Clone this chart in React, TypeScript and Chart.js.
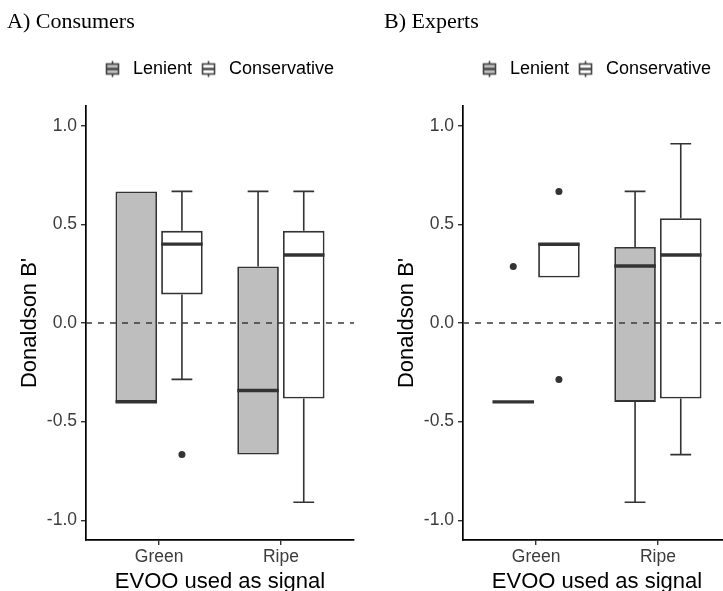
import React, { useEffect, useRef } from 'react';
import { Chart, registerables } from 'chart.js';

Chart.register(...registerables);

// ---------------- data ----------------
const categories = ['Green', 'Ripe'];
const categoryPositions = [1, 2];
const groups = ['Lenient', 'Conservative'];
const yTicks = [-1, -0.5, 0, 0.5, 1];

// five-number summaries per category: [lower whisker, Q1, median, Q3, upper whisker]
const consumersLenient = [
  [-0.4, -0.4, -0.4, 0.667, 0.667],
  [-0.667, -0.667, -0.342, 0.287, 0.667],
];
const consumersConservative = [
  [-0.286, 0.145, 0.4, 0.467, 0.667],
  [-0.909, -0.383, 0.345, 0.467, 0.667],
];
const consumersLenientOutliers = [[], []];
const consumersConservativeOutliers = [[-0.667], []];

const expertsLenient = [
  [-0.4, -0.4, -0.4, -0.4, -0.4],
  [-0.909, -0.4, 0.289, 0.385, 0.667],
];
const expertsConservative = [
  [0.231, 0.231, 0.4, 0.4, 0.4],
  [-0.667, -0.383, 0.345, 0.531, 0.909],
];
const expertsLenientOutliers = [[0.286], []];
const expertsConservativeOutliers = [[0.667, -0.286], []];

// ---------------- style ----------------
const PANEL_W = 377;
const H = 591;
const LINE = '#333333';
const FILLS = ['#BEBEBE', '#FFFFFF'];
const SANS = 'Liberation Sans';
const SERIF = 'Liberation Serif';
const TICK_COLOR = '#3C3C3C';

function makeIcon(fill: string) {
  const c = document.createElement('canvas');
  c.width = 20;
  c.height = 20;
  const g = c.getContext('2d')!;
  const cx = 7.5;
  g.strokeStyle = '#444444';
  g.lineWidth = 1.6;
  g.beginPath();
  g.moveTo(cx, 1.5);
  g.lineTo(cx, 4.5);
  g.moveTo(cx, 14.5);
  g.lineTo(cx, 17.5);
  g.stroke();
  g.fillStyle = fill;
  g.fillRect(cx - 6, 4.5, 12, 10);
  g.strokeRect(cx - 6, 4.5, 12, 10);
  g.lineWidth = 2.4;
  g.beginPath();
  g.moveTo(cx - 6, 9.5);
  g.lineTo(cx + 6, 9.5);
  g.stroke();
  return c;
}

const legendSpacer = {
  id: 'legendSpacer',
  beforeInit(chart: any) {
    const legend = chart.legend;
    if (!legend || legend.__patched) return;
    const fit = legend.fit;
    legend.fit = function () {
      fit.call(this);
      this.height += 17.5;
    };
    legend.__patched = true;
  },
};

function boxplotExtras(stats: number[][][], outs: number[][][]) {
  return {
    id: 'boxplotExtras',
    afterDatasetsDraw(chart: any) {
      const { ctx, chartArea, scales } = chart;
      const y = scales.y;
      const py = (v: number) => y.getPixelForValue(v);
      ctx.save();
      chart.data.datasets.forEach((_: any, di: number) => {
        const meta = chart.getDatasetMeta(di);
        meta.data.forEach((el: any, j: number) => {
          const { x, width } = el.getProps(['x', 'width'], true);
          const [lo, q1, med, q3, hi] = stats[di][j];
          ctx.setLineDash([]);
          ctx.strokeStyle = LINE;
          ctx.lineWidth = 1.6;
          ctx.beginPath();
          if (hi > q3) {
            ctx.moveTo(x, py(q3));
            ctx.lineTo(x, py(hi));
            ctx.moveTo(x - width / 4, py(hi));
            ctx.lineTo(x + width / 4, py(hi));
          }
          if (lo < q1) {
            ctx.moveTo(x, py(q1));
            ctx.lineTo(x, py(lo));
            ctx.moveTo(x - width / 4, py(lo));
            ctx.lineTo(x + width / 4, py(lo));
          }
          ctx.stroke();
          ctx.lineWidth = 3.4;
          ctx.beginPath();
          ctx.moveTo(x - width / 2, py(med));
          ctx.lineTo(x + width / 2, py(med));
          ctx.stroke();
          ctx.fillStyle = LINE;
          outs[di][j].forEach((v) => {
            ctx.beginPath();
            ctx.arc(x, py(v), 3.5, 0, Math.PI * 2);
            ctx.fill();
          });
        });
      });
      ctx.setLineDash([6, 6]);
      ctx.strokeStyle = '#3A3A3A';
      ctx.lineWidth = 1.4;
      ctx.beginPath();
      ctx.moveTo(chartArea.left, py(0));
      ctx.lineTo(chartArea.right, py(0));
      ctx.stroke();
      ctx.restore();
    },
  };
}

type PanelProps = {
  title: string;
  left: number;
  lenient: number[][];
  conservative: number[][];
  lenientOut: number[][];
  conservativeOut: number[][];
};

function Panel({ title, left, lenient, conservative, lenientOut, conservativeOut }: PanelProps) {
  const ref = useRef<HTMLCanvasElement>(null);
  useEffect(() => {
    const stats = [lenient, conservative];
    const outs = [lenientOut, conservativeOut];
    const icons = FILLS.map((f) => makeIcon(f));
    const chart = new Chart(ref.current as HTMLCanvasElement, {
      type: 'bar',
      data: {
        datasets: groups.map((g, di) => ({
          label: g,
          data: categoryPositions.map((x, i) => ({ x, y: [stats[di][i][1], stats[di][i][3]] })),
          backgroundColor: FILLS[di],
          borderColor: LINE,
          borderWidth: 1.8,
          borderSkipped: false,
          categoryPercentage: 0.75,
          barPercentage: 0.91,
        })) as any,
      },
      options: {
        animation: false,
        responsive: false,
        devicePixelRatio: 1,
        events: [],
        layout: { padding: { left: 7, right: 23, top: 0, bottom: 0 } },
        plugins: {
          tooltip: { enabled: false },
          title: {
            display: true,
            text: title,
            align: 'start',
            color: '#000000',
            font: { family: SERIF, size: 22, weight: 'normal' },
            padding: { top: 9.4, bottom: 14.7 },
          },
          legend: {
            display: true,
            position: 'top',
            fullSize: false,
            align: 'center',
            labels: {
              usePointStyle: true,
              padding: 10,
              color: '#000000',
              font: { family: SANS, size: 18 },
              generateLabels: () =>
                groups.map((g, i) => ({
                  text: g,
                  pointStyle: icons[i],
                  fillStyle: FILLS[i],
                  strokeStyle: LINE,
                  lineWidth: 0,
                  hidden: false,
                  datasetIndex: i,
                })) as any,
            },
          },
        },
        scales: {
          x: {
            type: 'linear',
            min: 0.4,
            max: 2.6,
            offset: false,
            afterBuildTicks: (s: any) => {
              s.ticks = categoryPositions.map((v) => ({ value: v }));
            },
            afterFit: (s: any) => {
              s.height = 51;
            },
            grid: {
              display: true,
              offset: false,
              drawOnChartArea: false,
              drawTicks: true,
              tickLength: 5,
              color: LINE,
              lineWidth: 1.4,
            },
            border: { display: true, color: '#000000', width: 1.7 },
            ticks: {
              autoSkip: false,
              maxRotation: 0,
              padding: 2,
              color: TICK_COLOR,
              font: { family: SANS, size: 17.5 },
              callback: (_v: any, i: number) => categories[i],
            },
            title: {
              display: true,
              text: 'EVOO used as signal',
              color: '#000000',
              font: { family: SANS, size: 22 },
              padding: { top: 0, bottom: -3.7 },
            },
          },
          y: {
            type: 'linear',
            min: -1.1,
            max: 1.1,
            afterBuildTicks: (s: any) => {
              s.ticks = yTicks.map((v) => ({ value: v }));
            },
            afterFit: (s: any) => {
              s.width = 79;
            },
            grid: {
              display: true,
              drawOnChartArea: false,
              drawTicks: true,
              tickLength: 5,
              color: LINE,
              lineWidth: 1.4,
            },
            border: { display: true, color: '#000000', width: 1.7 },
            ticks: {
              autoSkip: false,
              padding: 4,
              color: TICK_COLOR,
              font: { family: SANS, size: 17.5 },
              callback: (v: any) => Number(v).toFixed(1),
            },
            title: {
              display: true,
              text: "Donaldson B'",
              color: '#000000',
              font: { family: SANS, size: 22 },
              padding: { top: 9.7, bottom: 0 },
            },
          },
        },
      } as any,
      plugins: [legendSpacer, boxplotExtras(stats, outs)],
    });
    return () => chart.destroy();
  }, []);
  return (
    <canvas
      ref={ref}
      width={PANEL_W}
      height={H}
      style={{ position: 'absolute', left, top: 0, width: PANEL_W, height: H }}
    />
  );
}

export default function App() {
  return (
    <div
      style={{
        position: 'absolute',
        left: 0,
        top: 0,
        width: 723,
        height: 591,
        overflow: 'hidden',
        background: '#ffffff',
      }}
    >
      <Panel
        title="A) Consumers"
        left={0}
        lenient={consumersLenient}
        conservative={consumersConservative}
        lenientOut={consumersLenientOutliers}
        conservativeOut={consumersConservativeOutliers}
      />
      <Panel
        title="B) Experts"
        left={377}
        lenient={expertsLenient}
        conservative={expertsConservative}
        lenientOut={expertsLenientOutliers}
        conservativeOut={expertsConservativeOutliers}
      />
    </div>
  );
}
